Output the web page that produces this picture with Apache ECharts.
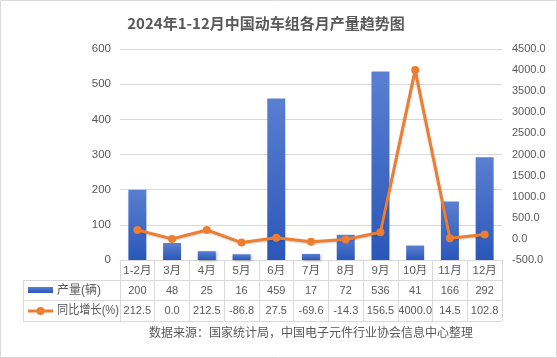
<!DOCTYPE html>
<html><head><meta charset="utf-8">
<script src="https://cdn.jsdelivr.net/npm/echarts@6/dist/echarts.min.js"></script>
<style>html,body{margin:0;padding:0;background:#fff}#c{width:557px;height:358px}</style>
</head><body><div id="c"></div>
<script>
var titleText = '2024年1-12月中国动车组各月产量趋势图';
var categories = ['1-2月','3月','4月','5月','6月','7月','8月','9月','10月','11月','12月'];
var output = [200,48,25,16,459,17,72,536,41,166,292];
var yoy = [212.5,0.0,212.5,-86.8,27.5,-69.6,-14.3,156.5,4000.0,14.5,102.8];
var seriesNames = ['产量(辆)','同比增长(%)'];
var sourceText = '数据来源：国家统计局，中国电子元件行业协会信息中心整理';

var FONT = "'Liberation Sans','Noto Sans CJK SC',sans-serif";
var TXT = '#595959', LINE = '#D9D9D9', ORANGE = '#ED7D31';
var chart = echarts.init(document.getElementById('c'));
var gridL = 120, gridR = 55, gridT = 49, gridB = 98;
chart.setOption({
  animation: false,
  title: {text: titleText, left: 261, top: 11, textAlign: 'center',
    textStyle: {fontSize: 15, fontWeight: 'bold', color: TXT, fontFamily: "'Noto Sans CJK SC',sans-serif"}},
  grid: {left: gridL, right: gridR, top: gridT, bottom: gridB},
  xAxis: {type: 'category', data: categories, boundaryGap: true,
    axisLine: {lineStyle: {color: LINE}},
    axisTick: {show: true, interval: 0, length: 61, lineStyle: {color: LINE}},
    axisLabel: {show: false}},
  yAxis: [
    {type: 'value', min: 0, max: 600, interval: 100,
      axisLabel: {color: TXT, fontSize: 11.5, fontFamily: FONT, margin: 9},
      axisLine: {show: false}, axisTick: {show: false},
      splitLine: {lineStyle: {color: LINE}}},
    {type: 'value', min: -500, max: 4500, interval: 500,
      axisLabel: {color: TXT, fontSize: 11, fontFamily: FONT, margin: 10,
        formatter: function (v) { return v.toFixed(1); }},
      axisLine: {show: false}, axisTick: {show: false}, splitLine: {show: false}}
  ],
  series: [
    {name: seriesNames[0], type: 'bar', data: output, barWidth: 18, yAxisIndex: 0,
      itemStyle: {color: new echarts.graphic.LinearGradient(0, 0, 0, 1, [
        {offset: 0, color: '#5A7FD2'}, {offset: 1, color: '#2A57B8'}]),
        shadowColor: 'rgba(0,0,0,0.3)', shadowBlur: 3, shadowOffsetX: 1, shadowOffsetY: 1}},
    {name: seriesNames[1], type: 'line', data: yoy, yAxisIndex: 1,
      symbol: 'circle', symbolSize: 8,
      lineStyle: {color: ORANGE, width: 3, shadowColor: 'rgba(0,0,0,0.2)', shadowBlur: 2, shadowOffsetY: 1},
      itemStyle: {color: ORANGE}}
  ]
});

// data table built from arrays
var W = 557, H = 358;
var plotRight = W - gridR;
var axisY = H - gridB;
var rowCat = axisY + 11, row1 = axisY + 31, row2 = axisY + 51;
var g = [];
g.push({type: 'rect', shape: {x: 0.5, y: 0.5, width: W - 1, height: H - 1},
  style: {fill: 'none', stroke: LINE, lineWidth: 1}, silent: true});
[axisY + 20.5, axisY + 40.5, axisY + 61.5].forEach(function (y) {
  g.push({type: 'line', shape: {x1: 23, y1: y, x2: plotRight, y2: y}, style: {stroke: LINE, lineWidth: 1}});
});
g.push({type: 'line', shape: {x1: 23.5, y1: axisY + 20.5, x2: 23.5, y2: axisY + 61.5}, style: {stroke: LINE, lineWidth: 1}});
var cf = '11.5px ' + FONT, tf = '11px ' + FONT;
categories.forEach(function (c, i) {
  var x = chart.convertToPixel({xAxisIndex: 0}, i);
  g.push({type: 'text', x: x, y: rowCat, style: {text: c, fill: TXT, font: cf, textAlign: 'center', textVerticalAlign: 'middle'}});
  g.push({type: 'text', x: x, y: row1, style: {text: String(output[i]), fill: TXT, font: tf, textAlign: 'center', textVerticalAlign: 'middle'}});
  g.push({type: 'text', x: x, y: row2, style: {text: yoy[i].toFixed(1), fill: TXT, font: tf, textAlign: 'center', textVerticalAlign: 'middle'}});
});
// legend keys
g.push({type: 'rect', shape: {x: 28, y: row1 - 4, width: 25, height: 6},
  style: {fill: new echarts.graphic.LinearGradient(0, 0, 0, 1, [{offset: 0, color: '#5A7FD2'}, {offset: 1, color: '#2A57B8'}])}});
g.push({type: 'line', shape: {x1: 28, y1: row2, x2: 53, y2: row2}, style: {stroke: ORANGE, lineWidth: 3}});
g.push({type: 'circle', shape: {cx: 40.5, cy: row2, r: 4}, style: {fill: ORANGE}});
g.push({type: 'text', x: 57, y: row1, style: {text: seriesNames[0], fill: TXT, font: '12px ' + FONT, textVerticalAlign: 'middle'}});
g.push({type: 'text', x: 57, y: row2, style: {text: seriesNames[1], fill: TXT, font: '12px ' + FONT, textVerticalAlign: 'middle'}, scaleX: 0.93});
g.push({type: 'text', x: 311, y: axisY + 72, style: {text: sourceText, fill: TXT, font: "12px 'Noto Sans CJK SC',sans-serif", textAlign: 'center', textVerticalAlign: 'middle'}});
chart.setOption({graphic: {elements: g}});
</script></body></html>
